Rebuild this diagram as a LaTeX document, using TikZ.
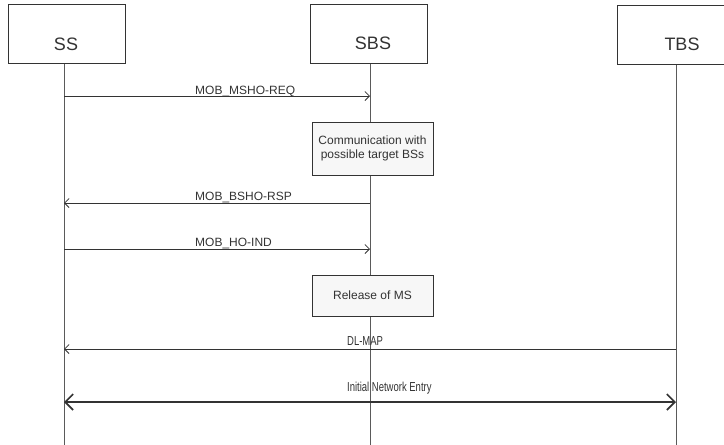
\documentclass[tikz,border=0pt]{standalone}
\usepackage{fontspec}
\setmainfont{Liberation Sans}
\usetikzlibrary{arrows.meta}
\definecolor{linegray}{HTML}{333333}
\definecolor{lifegray}{HTML}{5A5A5A}
\definecolor{boxfill}{HTML}{F7F7F7}
\begin{document}
\begin{tikzpicture}[x=1pt,y=-1pt,
  actor/.style={draw=linegray, line width=0.8pt, fill=white,
    minimum width=117pt, minimum height=59pt, inner sep=0pt},
  actorname/.style={font=\fontsize{18}{20}\selectfont, text=linegray, inner sep=0pt},
  process/.style={draw=linegray, line width=0.8pt, fill=boxfill,
    minimum width=121pt, inner sep=0pt, align=center,
    font=\fontsize{12}{13.5}\selectfont, text=linegray},
  lifeline/.style={draw=lifegray, line width=0.8pt},
  msg/.style={draw=linegray, line width=0.8pt, -{Straight Barb[length=4.5pt,width=9pt]}},
  bigmsg/.style={draw=linegray, line width=1.6pt,
    {Straight Barb[length=8pt,width=16pt]}-{Straight Barb[length=8pt,width=16pt]}},
  msgname/.style={font=\fontsize{12}{14}\selectfont, text=linegray, inner sep=0pt, anchor=base west},
  narrowname/.style={msgname, font=\fontsize{13}{15}\selectfont}]

\useasboundingbox (0,0) rectangle (724,445);
\clip (0,0) rectangle (724,445);

% lifeline ends
\coordinate (sstop)  at (64,63);
\coordinate (sbstop) at (370,63);
\coordinate (tbstop) at (676,64);
\coordinate (ssend)  at (64,445);
\coordinate (sbsend) at (370,445);
\coordinate (tbsend) at (676,445);

% lifelines (boxes are drawn on top of them)
\draw[lifeline] (sstop) -- (ssend);
\draw[lifeline] (sbstop) -- (sbsend);
\draw[lifeline] (tbstop) -- (tbsend);

% participants
\node[actor] (ss)  at (66.5,33.5) {};
\node[actor] (sbs) at (368.5,33.5) {};
\node[actor] (tbs) at (676,34.5) {};
\node[actorname] (ssname)  at (66,44) {SS};
\node[actorname] (sbsname) at (373,43.5) {SBS};
\node[actorname] (tbsname) at (682,44) {TBS};

% SBS processing boxes
\node[process, minimum height=53pt] (comm) at (372.5,148.5)
  {Communication with\\possible target BSs};
\node[process, minimum height=41pt] (rel) at (372.5,295.5) {Release of MS};

% message points on the lifelines
\coordinate (m1a) at (64,96);   \coordinate (m1b) at (370,96);
\coordinate (m2a) at (370,203); \coordinate (m2b) at (64,203);
\coordinate (m3a) at (64,249);  \coordinate (m3b) at (370,249);
\coordinate (m4a) at (676,349); \coordinate (m4b) at (64,349);
\coordinate (m5a) at (64,402);  \coordinate (m5b) at (676,402);

% messages
\draw[msg] (m1a) -- (m1b);
\node[msgname] (l1) at (195,94.3) {MOB\_MSHO-REQ};
\draw[msg] (m2a) -- (m2b);
\node[msgname] (l2) at (195,200.5) {MOB\_BSHO-RSP};
\draw[msg] (m3a) -- (m3b);
\node[msgname] (l3) at (195,246.7) {MOB\_HO-IND};
\draw[msg] (m4a) -- (m4b);
\node[narrowname] (l4) at (347,345) {\scalebox{0.73}[1]{DL-MAP}};
\draw[bigmsg] (m5a) -- (m5b);
\node[narrowname] (l5) at (347,391) {\scalebox{0.73}[1]{Initial Network Entry}};
\end{tikzpicture}
\end{document}
